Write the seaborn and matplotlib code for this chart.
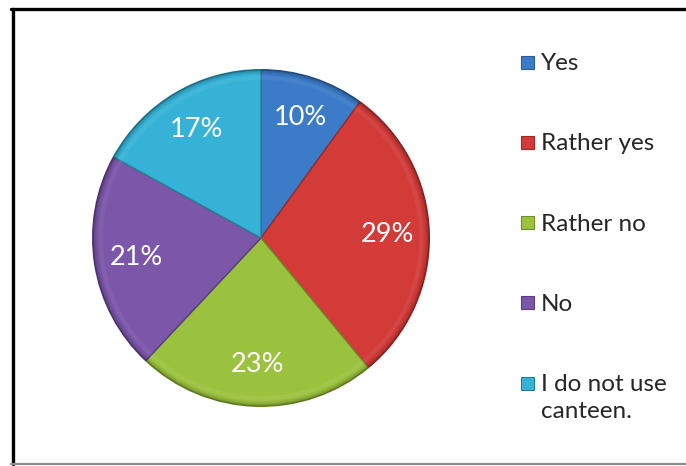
import matplotlib
matplotlib.use("Agg")
import matplotlib.pyplot as plt
from matplotlib.lines import Line2D
from matplotlib.patches import Rectangle, Wedge
from matplotlib.transforms import Affine2D
import seaborn as sns

categories = ["Yes", "Rather yes", "Rather no", "No", "I do not use\ncanteen."]
shares = [10, 29, 23, 21, 17]
colors = ["#3b7bc8", "#d23b38", "#9bc23e", "#7b56a9", "#36b2d6"]
edge_colors = ["#2a5a96", "#9a2a28", "#6f8d2a", "#583d7c", "#25809c"]

sns.set_theme(style="white")
plt.rcParams["font.family"] = ["Lato", "DejaVu Sans"]

W, H = 686, 466
fig = plt.figure(figsize=(W / 100, H / 100), dpi=100)
fig.patch.set_facecolor("white")
# pixel coordinates measured from the top-left corner
px = Affine2D().scale(1 / W, -1 / H).translate(0, 1) + fig.transFigure

# pie axes: centre (261, 238) px, radius 170 px
cx, cy, r = 261, 238, 170
ax = fig.add_axes([(cx - r) / W, (H - cy - r) / H, 2 * r / W, 2 * r / H])
wedges, texts, autotexts = ax.pie(
    shares, colors=colors, startangle=90, counterclock=False,
    autopct="%d%%", pctdistance=0.75, radius=1,
    wedgeprops=dict(linewidth=1.0),
    textprops=dict(color="white", fontsize=19.5),
)
for w, ec in zip(wedges, edge_colors):
    w.set_edgecolor(ec)
    # soft bevel: faint darker rim along the outer arc, light sheen inside it
    for i, a in enumerate([0.03, 0.05, 0.07, 0.10]):
        rim = Wedge((0, 0), 1.0, w.theta1, w.theta2, width=0.03 - i * 0.007,
                    facecolor="black", edgecolor="none", alpha=a, zorder=w.get_zorder() + 0.1)
        ax.add_patch(rim)
    sheen = Wedge((0, 0), 0.965, w.theta1, w.theta2, width=0.025,
                  facecolor="white", edgecolor="none", alpha=0.06, zorder=w.get_zorder() + 0.1)
    ax.add_patch(sheen)
for t in autotexts:
    t.set_zorder(5)
ax.set_xlim(-1.01, 1.01)
ax.set_ylim(-1.01, 1.01)
ax.set_aspect("equal")
ax.axis("off")

# legend, one entry every 80 px
for i, (lab, c, ec) in enumerate(zip(categories, colors, edge_colors)):
    yc = 62 + 80.3 * i
    fig.add_artist(Rectangle((521, yc - 6.5), 13, 13, transform=px,
                             facecolor=c, edgecolor=ec, linewidth=0.8))
    fig.text(541, yc - 9, lab, transform=px, ha="left", va="top",
             fontsize=17.5, color="#262626", linespacing=1.32)

# chart border (left/top dark, bottom grey)
fig.add_artist(Line2D([12.5, 12.5], [8.5, 464], transform=px, color="black", lw=2.4))
fig.add_artist(Line2D([11, W], [8.5, 8.5], transform=px, color="black", lw=2.4))
fig.add_artist(Line2D([11, W], [464, 464], transform=px, color="#8c8c8c", lw=1.6))

fig.savefig("out.png", dpi=100, facecolor="white")
